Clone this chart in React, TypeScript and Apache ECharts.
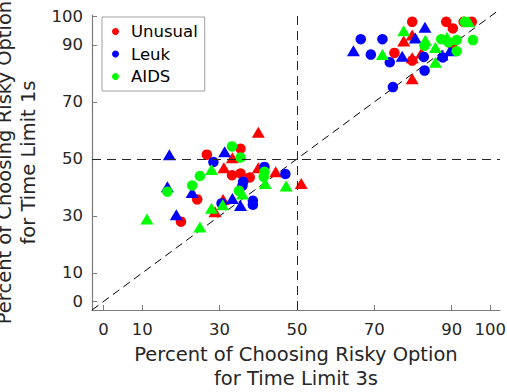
import React, { useEffect, useRef } from "react";
import * as echarts from "echarts";

// Tick values shown on both axes
const tickValues = [0, 10, 30, 50, 70, 90, 100];
const xRange = [-3, 102.5];
const yRange = [-3, 100.5];
const diagonal = [-3, 102.3];
const threshold = 50;

// [x = % risky at 3s, y = % risky at 1s]
const unusualCircle: [number, number][] = [
  [35.4, 53.6], [26.7, 51.5], [33.2, 44.3], [35.4, 44.9], [37.8, 43.5], [24.2, 35.8], [20.0, 28.0],
  [75.2, 87.2], [79.8, 84.5], [79.8, 98.1], [88.6, 98.1], [90.3, 95.8], [93.1, 98.1], [95.2, 98.1], [90.1, 90.3],
];
const unusualTriangle: [number, number][] = [
  [40.0, 59.4], [33.3, 50.4], [31.1, 46.9], [40.0, 46.9], [44.5, 45.5], [51.1, 41.4], [30.9, 35.8], [28.8, 31.5],
  [79.8, 85.5], [79.8, 78.1], [79.8, 93.5], [77.6, 91.4], [82.2, 87.2],
];
const leukCircle: [number, number][] = [
  [28.4, 48.9], [41.6, 47.2], [47.0, 44.7], [35.9, 40.6], [36.1, 42.0], [30.5, 34.4], [38.6, 33.9], [38.6, 35.3],
  [66.5, 92.0], [72.1, 92.0], [69.1, 86.6], [74.0, 83.9], [83.0, 81.0], [74.8, 75.2], [82.8, 85.8], [87.7, 85.6],
];
const leukTriangle: [number, number][] = [
  [17.0, 51.5], [31.3, 52.5], [16.5, 40.2], [22.9, 38.2], [33.3, 36.1], [35.4, 33.7], [18.8, 30.4],
  [64.6, 88.0], [77.2, 86.0], [83.1, 96.2], [80.6, 92.4], [87.5, 86.5], [89.6, 88.0],
];
const aidsCircle: [number, number][] = [
  [33.2, 54.4], [35.4, 50.5], [41.6, 45.5], [24.9, 44.0], [22.9, 40.7], [41.4, 43.7], [16.5, 38.5], [35.0, 38.8],
  [93.4, 98.1], [95.5, 91.7], [87.3, 92.0], [91.3, 91.7], [91.3, 87.8], [83.0, 89.7], [89.2, 90.9],
];
const aidsTriangle: [number, number][] = [
  [27.9, 46.3], [41.8, 41.4], [47.2, 40.5], [35.9, 37.7], [30.8, 33.9], [27.9, 32.7], [11.2, 28.9], [24.9, 26.1],
  [72.1, 86.6], [77.6, 95.0], [83.2, 91.6], [85.8, 83.9], [88.8, 92.7], [85.8, 89.1], [94.4, 98.1],
];

const groups = [
  { name: "Unusual", color: "#ff0000", circle: unusualCircle, triangle: unusualTriangle },
  { name: "Leuk", color: "#0000ff", circle: leukCircle, triangle: leukTriangle },
  { name: "AIDS", color: "#00ff00", circle: aidsCircle, triangle: aidsTriangle },
];

const FONT = "DejaVu Sans";
const TEXT = "#262626";

export default function App() {
  const ref = useRef<HTMLDivElement>(null);
  useEffect(() => {
    if (!ref.current) return;
    const chart = echarts.init(ref.current, null, { renderer: "svg" });
    const scatterSeries: any[] = [];
    groups.forEach((g) => {
      scatterSeries.push({
        type: "scatter",
        name: g.name,
        data: g.circle,
        symbol: "circle",
        symbolSize: 10.5,
        itemStyle: { color: g.color, opacity: 1 },
        z: 3,
      });
      scatterSeries.push({
        type: "scatter",
        name: g.name,
        data: g.triangle,
        symbol: "triangle",
        symbolSize: [13, 11],
        itemStyle: { color: g.color, opacity: 1 },
        z: 3,
      });
    });
    const axisCommon = {
      type: "value",
      splitLine: { show: false },
      axisLine: { show: true, onZero: false, lineStyle: { color: "#7a7a7a", width: 1.2 } },
      axisTick: { show: true, inside: true, length: 5, customValues: tickValues, lineStyle: { color: "#7a7a7a" } },
      axisLabel: { customValues: tickValues, color: TEXT, fontFamily: FONT, fontSize: 16.5 },
      nameLocation: "middle",
      nameTextStyle: { color: TEXT, fontFamily: FONT, fontSize: 19.5, lineHeight: 24 },
    };
    chart.setOption({
      animation: false,
      backgroundColor: "#ffffff",
      grid: { left: 92, top: 15, right: 7, bottom: 82, containLabel: false, outerBoundsMode: "none" },
      legend: {
        orient: "vertical",
        left: 102,
        top: 17,
        padding: [6, 7, 6, 10],
        itemWidth: 21,
        itemHeight: 7,
        itemGap: 5.5,
        borderColor: "#a0a0a0",
        borderWidth: 1,
        backgroundColor: "#ffffff",
        textStyle: { color: "#000", fontFamily: FONT, fontSize: 16.5, lineHeight: 16 },
        data: groups.map((g) => ({ name: g.name, icon: "circle" })),
        z: 10,
      },
      xAxis: {
        ...axisCommon,
        min: xRange[0],
        max: xRange[1],
        name: "Percent of Choosing Risky Option\nfor Time Limit 3s",
        nameGap: 30,
        axisLabel: { ...axisCommon.axisLabel, margin: 11 },
      },
      yAxis: {
        ...axisCommon,
        min: yRange[0],
        max: yRange[1],
        name: "Percent of Choosing Risky Option\nfor Time Limit 1s",
        nameGap: 40,
        nameRotate: 90,
        axisLabel: { ...axisCommon.axisLabel, margin: 9 },
      },
      series: [
        {
          type: "line",
          data: [[diagonal[0], diagonal[0]], [diagonal[1], diagonal[1]]],
          symbol: "none",
          clip: false,
          lineStyle: { color: "#000", width: 1, type: [8, 5] },
          silent: true,
          z: 1,
          markLine: {
            silent: true,
            symbol: "none",
            label: { show: false },
            lineStyle: { color: TEXT, width: 1, type: [9, 6] },
            data: [{ xAxis: threshold }, { yAxis: threshold }],
          },
        },
        ...scatterSeries,
      ],
    });
    return () => chart.dispose();
  }, []);
  return (
    <div
      ref={ref}
      style={{ position: "fixed", left: 0, top: 0, width: 507, height: 392 }}
    />
  );
}
